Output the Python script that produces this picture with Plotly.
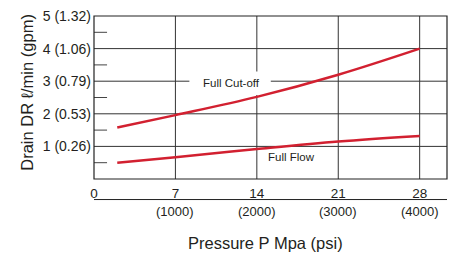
import plotly.graph_objects as go

# Data
pressure_mpa = [2, 7, 14, 21, 28]
full_cutoff = [1.58, 1.96, 2.52, 3.20, 4.00]
full_flow = [0.50, 0.67, 0.92, 1.15, 1.32]

x_tick_vals = [0, 7, 14, 21, 28]
x_tick_text = ["0", "7", "14", "21", "28"]
psi_vals = [7, 14, 21, 28]
psi_text = ["(1000)", "(2000)", "(3000)", "(4000)"]
y_tick_vals = [1, 2, 3, 4, 5]
y_tick_text = ["1 (0.26)", "2 (0.53)", "3 (0.79)", "4 (1.06)", "5 (1.32)"]
y_minor_vals = [0.5, 1.5, 2.5, 3.5, 4.5]

X_MAX = 30.35
Y_MAX = 5
RED = "#d22030"
GRID = "#333333"
TXT = "#231f20"
FONT = "Liberation Sans, Arial, sans-serif"

fig = go.Figure()
fig.add_trace(go.Scatter(x=pressure_mpa, y=full_cutoff, mode="lines",
                         line=dict(color=RED, width=2.5, shape="spline"),
                         hoverinfo="skip", showlegend=False))
fig.add_trace(go.Scatter(x=pressure_mpa, y=full_flow, mode="lines",
                         line=dict(color=RED, width=2.5, shape="spline"),
                         hoverinfo="skip", showlegend=False))

shapes = []
for v in x_tick_vals[1:]:
    shapes.append(dict(type="line", xref="x", yref="y", x0=v, x1=v, y0=0, y1=Y_MAX,
                       line=dict(color=GRID, width=1), layer="below"))
for v in y_tick_vals[:-1]:
    shapes.append(dict(type="line", xref="x", yref="y", x0=0, x1=X_MAX, y0=v, y1=v,
                       line=dict(color=GRID, width=1), layer="below"))
for v in y_minor_vals:
    shapes.append(dict(type="line", xref="paper", yref="y", x0=0, x1=0.037, y0=v, y1=v,
                       line=dict(color="#444444", width=1), layer="below"))
shapes.append(dict(type="rect", xref="x", yref="y", x0=8.2, x1=15.2, y0=2.58, y1=3.3,
                   fillcolor="white", line=dict(width=0), layer="below"))
shapes.append(dict(type="rect", xref="paper", yref="paper", x0=0, x1=1, y0=0, y1=1,
                   line=dict(color="#222222", width=1.2), layer="above"))
shapes.append(dict(type="line", xref="paper", yref="paper", x0=0, x1=1, y0=-0.126, y1=-0.126,
                   line=dict(color="#222222", width=1)))

annotations = [
    dict(x=11.8, y=2.94, xref="x", yref="y", text="Full Cut-off", showarrow=False,
         xanchor="center", yanchor="middle",
         font=dict(size=11.5, color=TXT, family=FONT)),
    dict(x=17.0, y=0.66, xref="x", yref="y", text="Full Flow", showarrow=False,
         xanchor="center", yanchor="middle",
         font=dict(size=11.5, color=TXT, family=FONT)),
    dict(x=-0.19, y=0.535, xref="paper", yref="paper", text="Drain DR ℓ/min (gpm)",
         textangle=-90, showarrow=False, xanchor="center", yanchor="middle",
         font=dict(size=16.5, color=TXT, family=FONT)),
    dict(x=0.485, y=-0.394, xref="paper", yref="paper", text="Pressure P Mpa (psi)",
         showarrow=False, xanchor="center", yanchor="middle",
         font=dict(size=16.5, color=TXT, family=FONT)),
]
for v, t in zip(psi_vals, psi_text):
    annotations.append(dict(x=v, y=-0.198, xref="x", yref="paper", text=t, showarrow=False,
                            xanchor="center", yanchor="middle",
                            font=dict(size=13, color=TXT, family=FONT)))

fig.update_layout(
    width=455, height=254,
    margin=dict(l=94, r=8, t=16, b=75),
    paper_bgcolor="white", plot_bgcolor="white",
    shapes=shapes, annotations=annotations,
    font=dict(family=FONT, color=TXT, size=13),
    xaxis=dict(range=[0, X_MAX], tickvals=x_tick_vals, ticktext=x_tick_text,
               showgrid=False, zeroline=False, showline=False, ticks="",
               automargin=False, ticklabelstandoff=4,
               tickfont=dict(size=13.5, color=TXT), fixedrange=True),
    yaxis=dict(range=[0, Y_MAX], tickvals=y_tick_vals, ticktext=y_tick_text,
               showgrid=False, zeroline=False, showline=False, ticks="",
               automargin=False, ticklabelstandoff=2,
               tickfont=dict(size=14, color=TXT), fixedrange=True),
)

fig.write_html("out.html", config={"displayModeBar": False},
               post_script="document.body.style.margin='0';document.body.style.overflow='hidden';")
